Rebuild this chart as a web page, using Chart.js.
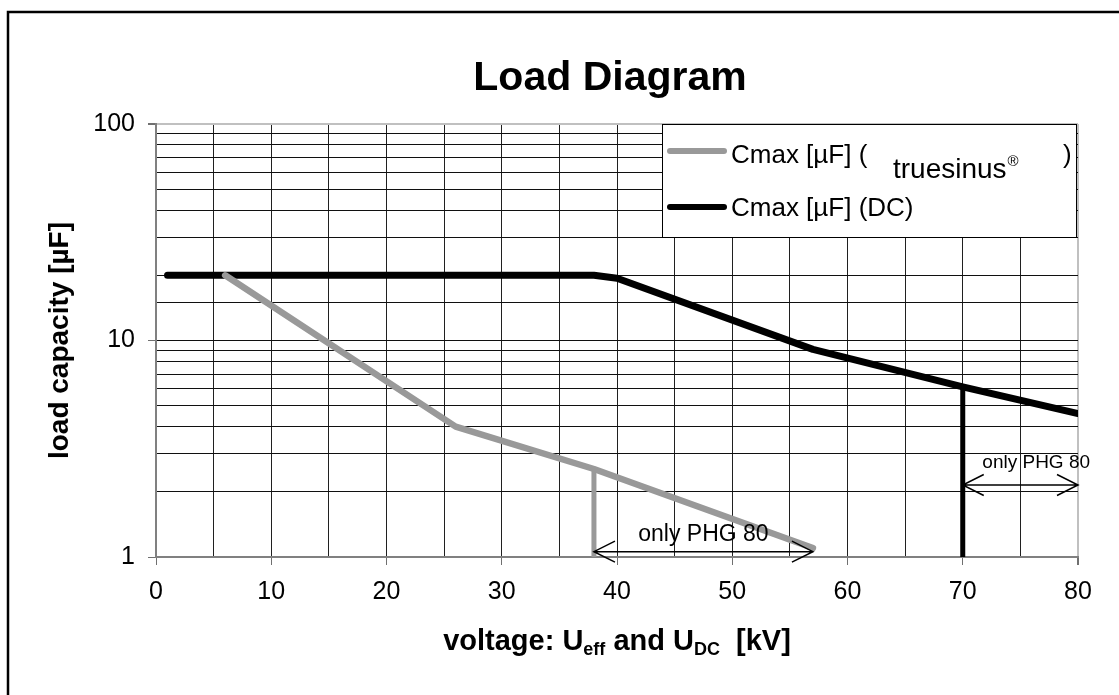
<!DOCTYPE html>
<html>
<head>
<meta charset="utf-8">
<title>Load Diagram</title>
<script src="https://cdn.jsdelivr.net/npm/chart.js@4.4.1/dist/chart.umd.min.js"></script>
<style>
  html, body { margin: 0; padding: 0; background: #fff; }
  #wrap { width: 1119px; height: 695px; position: relative; }
</style>
</head>
<body>
<div id="wrap"><canvas id="loadChart"></canvas></div>
<script>
// voltage [kV] / capacity [uF]
const sinusX = [6, 26, 38, 57];
const sinusY = [20, 4, 2.55, 1.1];
const dcX = [1, 38, 40, 57, 70, 80];
const dcY = [20, 20, 19.4, 9.1, 6.1, 4.6];
const sinusCutX = [38, 38];
const sinusCutY = [2.55, 1];
const dcCutX = [70, 70];
const dcCutY = [6.1, 1];
// "only PHG 80" ranges: from, to, level
const phgFrom = [38, 70];
const phgTo = [57, 80];
const phgLevel = [1.058, 2.15];
const yLabels = [1, 10, 100];

const FONT = "'Liberation Sans', Arial, sans-serif";

function pts(xs, ys) {
  return xs.map((x, i) => ({ x: x, y: ys[i] }));
}

const deco = {
  id: "deco",
  afterDatasetsDraw(chart) {
    const { ctx, scales } = chart;
    const x = scales.x, y = scales.y;
    ctx.save();
    ctx.strokeStyle = "#000";
    ctx.lineWidth = 1.5;
    for (let i = 0; i < phgFrom.length; i++) {
      const a = x.getPixelForValue(phgFrom[i]);
      const b = x.getPixelForValue(phgTo[i]);
      const py = y.getPixelForValue(phgLevel[i]);
      ctx.beginPath();
      ctx.moveTo(a, py); ctx.lineTo(b, py);
      ctx.moveTo(a + 21, py - 10.5); ctx.lineTo(a, py); ctx.lineTo(a + 21, py + 10.5);
      ctx.moveTo(b - 21, py - 10.5); ctx.lineTo(b, py); ctx.lineTo(b - 21, py + 10.5);
      ctx.stroke();
    }
    ctx.fillStyle = "#000";
    ctx.textBaseline = "middle";
    ctx.font = "23px " + FONT;
    ctx.textAlign = "center";
    ctx.fillText("only PHG 80", x.getPixelForValue(47.5), y.getPixelForValue(phgLevel[0]) - 17);
    ctx.font = "19px " + FONT;
    ctx.textAlign = "left";
    ctx.fillText("only PHG 80", x.getPixelForValue(71.7), y.getPixelForValue(phgLevel[1]) - 22);
    ctx.restore();
  },
  afterDraw(chart) {
    const { ctx, chartArea } = chart;
    ctx.save();

    // outer frame
    ctx.strokeStyle = "#000";
    ctx.lineWidth = 2.5;
    ctx.beginPath();
    ctx.moveTo(8, 700); ctx.lineTo(8, 12); ctx.lineTo(1125, 12);
    ctx.stroke();

    // title
    ctx.fillStyle = "#000";
    ctx.textAlign = "center";
    ctx.textBaseline = "alphabetic";
    ctx.font = "bold 41px " + FONT;
    ctx.fillText("Load Diagram", 610, 90);

    // x axis title with subscripts
    const parts = [
      ["voltage: U", 29, 0], ["eff", 18, 5], [" and U", 29, 0], ["DC", 18, 5], ["  [kV]", 29, 0]
    ];
    let total = 0;
    parts.forEach(p => { ctx.font = "bold " + p[1] + "px " + FONT; total += ctx.measureText(p[0]).width; });
    let cx = 617 - total / 2;
    ctx.textAlign = "left";
    parts.forEach(p => {
      ctx.font = "bold " + p[1] + "px " + FONT;
      ctx.fillText(p[0], cx, 650 + p[2]);
      cx += ctx.measureText(p[0]).width;
    });

    // legend
    const lx = 662, ly = chartArea.top, lw = chartArea.right - 2 - lx, lh = 113;
    ctx.fillStyle = "#fff";
    ctx.fillRect(lx, ly, lw, lh);
    ctx.strokeStyle = "#000";
    ctx.lineWidth = 1;
    ctx.strokeRect(lx + 0.5, ly + 0.5, lw, lh);
    ctx.lineCap = "round";
    ctx.lineWidth = 6;
    ctx.strokeStyle = "#999999";
    ctx.beginPath(); ctx.moveTo(670, 151); ctx.lineTo(724, 151); ctx.stroke();
    ctx.strokeStyle = "#000";
    ctx.beginPath(); ctx.moveTo(670, 207); ctx.lineTo(724, 207); ctx.stroke();
    ctx.fillStyle = "#000";
    ctx.font = "26px " + FONT;
    ctx.fillText("Cmax [µF] (", 731, 163);
    ctx.fillText(")", 1063, 163);
    ctx.fillText("Cmax [µF] (DC)", 731, 216);
    ctx.font = "28px " + FONT;
    ctx.fillText("truesinus", 893, 178);
    const tw = ctx.measureText("truesinus").width;
    ctx.font = "15px " + FONT;
    ctx.fillText("®", 893 + tw + 1, 166);

    ctx.restore();
  }
};

new Chart(document.getElementById("loadChart"), {
  type: "line",
  data: {
    datasets: [
      {
        label: "Cmax [µF] (truesinus®)",
        data: pts(sinusX, sinusY),
        borderColor: "#999999",
        borderWidth: 6.5,
        borderCapStyle: "round",
        borderJoinStyle: "round",
      },
      {
        label: "Cmax [µF] (DC)",
        data: pts(dcX, dcY),
        borderColor: "#000000",
        borderWidth: 7,
        borderCapStyle: "round",
        borderJoinStyle: "round",
      },
      {
        label: "sinus limit",
        data: pts(sinusCutX, sinusCutY),
        borderColor: "#999999",
        borderWidth: 5,
      },
      {
        label: "dc limit",
        data: pts(dcCutX, dcCutY),
        borderColor: "#000000",
        borderWidth: 5,
      },
    ],
  },
  options: {
    responsive: true,
    maintainAspectRatio: false,
    animation: false,
    devicePixelRatio: 1,
    elements: { point: { radius: 0, hoverRadius: 0 } },
    layout: { padding: { top: 124, right: 41, left: 0, bottom: 0 } },
    plugins: {
      legend: { display: false },
      tooltip: { enabled: false },
    },
    scales: {
      x: {
        type: "linear",
        min: 0,
        max: 80,
        ticks: {
          stepSize: 5,
          color: "#000",
          font: { family: FONT, size: 25 },
          padding: 12,
          maxRotation: 0,
          autoSkip: false,
          callback: (v) => (v % 10 === 0 ? String(v) : ""),
        },
        grid: {
          color: (c) => (c.tick && c.tick.value === 80 ? "#c0c0c0" : "#202020"),
          lineWidth: (c) => (c.tick && c.tick.value === 80 ? 2 : 1),
          tickColor: (c) => (c.tick && c.tick.value % 10 === 0 ? "#707070" : "rgba(0,0,0,0)"),
          tickLength: 8,
        },
        border: { color: "#808080", width: 2 },
        afterFit: (s) => { s.height = 138; },
      },
      y: {
        type: "logarithmic",
        min: 1,
        max: 100,
        ticks: {
          color: "#000",
          font: { family: FONT, size: 25 },
          padding: 13,
          autoSkip: false,
          callback: (v) => (yLabels.includes(v) ? String(v) : ""),
        },
        grid: {
          color: (c) => (c.tick && c.tick.value === 100 ? "#c0c0c0" : "#101010"),
          lineWidth: (c) => (c.tick && c.tick.value === 100 ? 2 : 1),
          tickColor: (c) => (c.tick && yLabels.includes(c.tick.value) ? "#707070" : "rgba(0,0,0,0)"),
          tickLength: 8,
        },
        border: { color: "#808080", width: 2 },
        title: {
          display: true,
          text: "load capacity [µF]",
          color: "#000",
          font: { family: FONT, size: 28, weight: "bold" },
          padding: { top: 43, bottom: 0 },
        },
        afterFit: (s) => { s.width = 156; },
      },
    },
  },
  plugins: [deco],
});
</script>
</body>
</html>
